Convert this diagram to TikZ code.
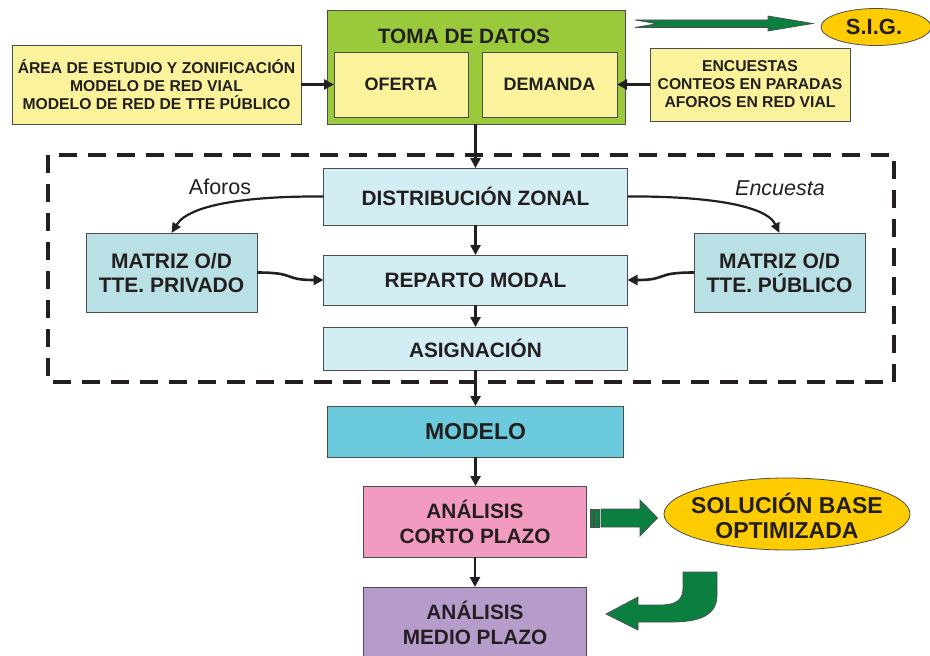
\documentclass[tikz,border=0pt]{standalone}
\usepackage{fontspec}
\setmainfont{Liberation Sans}
\usetikzlibrary{arrows.meta,shapes.geometric}
\definecolor{tgreen}{HTML}{9ACA3C}
\definecolor{tyellow}{HTML}{FAF39B}
\definecolor{tlblue}{HTML}{D3EDF4}
\definecolor{tmblue}{HTML}{B9E0E5}
\definecolor{tcyan}{HTML}{6BCBDC}
\definecolor{tpink}{HTML}{F39AC1}
\definecolor{tpurple}{HTML}{B69CCB}
\definecolor{tgold}{HTML}{FFCC00}
\definecolor{tdgreen}{HTML}{0A7F40}
\definecolor{ttext}{HTML}{231F20}
\definecolor{tborder}{HTML}{4D4D4F}
\begin{document}
\begin{tikzpicture}[x=1bp,y=-1bp,
  box/.style={draw=tborder,line width=0.8bp,inner sep=0pt,outer sep=0pt,align=center,text=ttext,
    font=\bfseries\fontsize{20.8bp}{25bp}\selectfont},
  smallbox/.style={box,fill=tyellow,font=\bfseries\fontsize{15.7bp}{18bp}\selectfont},
  midbox/.style={box,fill=tyellow,font=\bfseries\fontsize{18bp}{22bp}\selectfont},
  oval/.style={ellipse,draw=tborder,line width=0.8bp,fill=tgold,inner sep=0pt,outer sep=0pt},
  ovaltext/.style={inner sep=0pt,align=center,text=ttext,font=\bfseries\fontsize{23bp}{25bp}\selectfont},
  conn/.style={line width=2.8bp,draw=ttext,-{Triangle[length=10bp,width=10bp]}},
  curvearrow/.style={line width=2.2bp,draw=ttext,-{Triangle[length=10bp,width=9bp]}},
  garrow/.style={fill=tdgreen,draw=tborder,line width=0.7bp},
  lbl/.style={text=ttext,inner sep=0pt,font=\fontsize{21.5bp}{25bp}\selectfont},
]
\useasboundingbox (0,0) rectangle (930,656);
% dashed frame
\draw[ttext,line width=3.2bp,dash pattern=on 18bp off 11bp] (48,155) rectangle (894,382);
% top block
\node[box,fill=tgreen,minimum width=298bp,minimum height=114bp] (toma) at (476,67) {};
\node[text=ttext,inner sep=0pt,font=\bfseries\fontsize{20.8bp}{25bp}\selectfont] (tomat) at (464,36) {TOMA DE DATOS};
\node[midbox,minimum width=134bp,minimum height=65bp] (oferta) at (401,84.5) {OFERTA};
\node[midbox,minimum width=135bp,minimum height=65bp] (demanda) at (549.5,84.5) {DEMANDA};
\node[smallbox,minimum width=289bp,minimum height=79bp] (left) at (156.5,84.5)
  {ÁREA DE ESTUDIO Y ZONIFICACIÓN\\MODELO DE RED VIAL\\MODELO DE RED DE TTE PÚBLICO};
\node[smallbox,minimum width=200bp,minimum height=73bp] (right) at (750,84.5)
  {ENCUESTAS\\CONTEOS EN PARADAS\\AFOROS EN RED VIAL};
\node[oval,minimum width=110bp,minimum height=37bp] (sig) at (876,27) {};
\node[ovaltext,font=\bfseries\fontsize{22bp}{25bp}\selectfont] (sigt) at (874,27) {S.I.G.};
% inner blocks
\node[box,fill=tlblue,minimum width=304bp,minimum height=57bp] (dz) at (475.5,196.5) {DISTRIBUCIÓN ZONAL};
\node[box,fill=tlblue,minimum width=304bp,minimum height=50bp] (rm) at (475.5,280) {REPARTO MODAL};
\node[box,fill=tlblue,minimum width=304bp,minimum height=43bp] (asig) at (475.5,348.5) {ASIGNACIÓN};
\node[box,fill=tmblue,minimum width=171bp,minimum height=79bp,font=\bfseries\fontsize{21bp}{24bp}\selectfont] (mpriv) at (171.5,272.5) {MATRIZ O/D\\TTE. PRIVADO};
\node[box,fill=tmblue,minimum width=171bp,minimum height=79bp,font=\bfseries\fontsize{21bp}{24bp}\selectfont] (mpub) at (779.5,272.5) {MATRIZ O/D\\TTE. PÚBLICO};
\node[lbl] (aforos) at (220,187) {Aforos};
\node[lbl,font=\itshape\fontsize{21.5bp}{25bp}\selectfont] (encuesta) at (780,188) {Encuesta};
% lower blocks
\node[box,fill=tcyan,minimum width=296bp,minimum height=51bp,font=\bfseries\fontsize{23bp}{25bp}\selectfont] (modelo) at (475.5,431.5) {MODELO};
\node[box,fill=tpink,minimum width=223bp,minimum height=71bp] (corto) at (475,521.5) {ANÁLISIS\\CORTO PLAZO};
\node[box,fill=tpurple,minimum width=223bp,minimum height=71bp] (medio) at (475,622.5) {ANÁLISIS\\MEDIO PLAZO};
\node[oval,minimum width=246bp,minimum height=72bp] (sol) at (787,514) {};
\node[ovaltext] (solt) at (787,516) {SOLUCIÓN BASE\\OPTIMIZADA};
% connectors
\draw[conn] (left.east) -- (oferta.west);
\draw[conn] (right.west) -- (demanda.east);
\draw[conn] (toma.south -| dz.north) -- (dz.north);
\draw[conn] (dz.south) -- (rm.north);
\draw[conn] (rm.south) -- (asig.north);
\draw[conn] (asig.south) -- (modelo.north);
\draw[conn] (modelo.south) -- (corto.north -| modelo.south);
\draw[conn] (corto.south) -- (medio.north);
\draw[curvearrow] (dz.west) .. controls (255,196) and (190,203) .. (mpriv.north);
\draw[curvearrow] (dz.east) .. controls (695,196) and (765,203) .. (mpub.north);
\draw[conn,line width=2.6bp] (mpriv.east) .. controls (298,272.5) and (282,280) .. (rm.west);
\draw[conn,line width=2.6bp] (mpub.west) .. controls (653,272.5) and (669,280) .. (rm.east);
% green block arrows
\draw[garrow] (635,20) -- (768,20) -- (768,16) -- (813,23.5) -- (768,31) -- (768,27.5) -- (635,27.5) -- (657,23.7) -- cycle;
\draw[garrow] (590,509) rectangle (593,527);
\draw[garrow] (594.5,509) rectangle (599,527);
\draw[garrow] (601,509) -- (640,509) -- (640,500) -- (657.5,518) -- (640,536) -- (640,527) -- (601,527) -- cycle;
\draw[garrow] (683,572) -- (717,572) -- (717,595) .. controls (717,614) and (702,622) .. (672,622)
  -- (638,622) -- (638,630) -- (606,614) -- (638,597) -- (638,605) -- (660,605)
  .. controls (676,605) and (683,600) .. (683,588) -- cycle;
\end{tikzpicture}
\end{document}
